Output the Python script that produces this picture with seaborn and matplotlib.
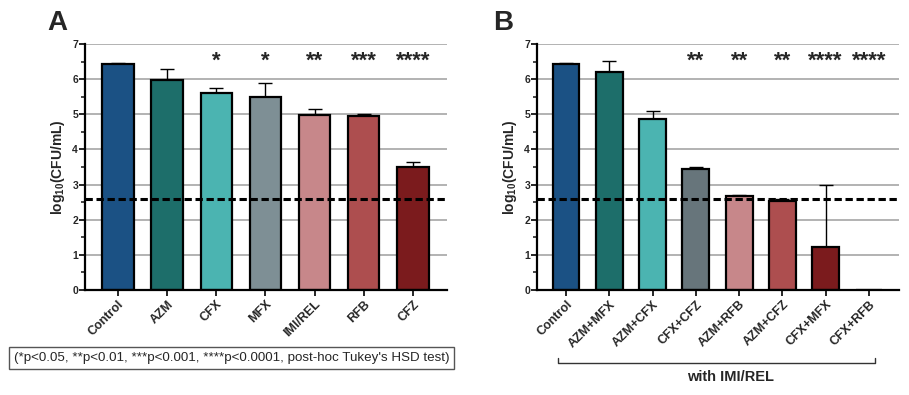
import matplotlib
matplotlib.use("Agg")
import matplotlib.pyplot as plt
import seaborn as sns
import numpy as np
import pandas as pd

# panel A: single drugs
a_labels = ["Control", "AZM", "CFX", "MFX", "IMI/REL", "RFB", "CFZ"]
a_means = [6.42, 5.97, 5.60, 5.50, 4.98, 4.96, 3.50]
a_err = [0.05, 0.31, 0.16, 0.40, 0.17, 0.04, 0.15]
a_stars = ["", "", "*", "*", "**", "***", "****"]
a_colors = ["#1b5184", "#1d6e6a", "#4bb4b1", "#7e8f95", "#c7878a", "#ad4e4f", "#7b1b1d"]

# panel B: combinations with IMI/REL
b_labels = ["Control", "AZM+MFX", "AZM+CFX", "CFX+CFZ", "AZM+RFB", "AZM+CFZ", "CFX+MFX", "CFX+RFB"]
b_means = [6.42, 6.20, 4.88, 3.45, 2.68, 2.52, 1.22, 0.0]
b_err = [0.05, 0.32, 0.22, 0.05, 0.02, 0.08, 1.78, 0.0]
b_stars = ["", "", "", "**", "**", "**", "****", "****"]
b_colors = ["#1b5184", "#1d6e6a", "#4bb4b1", "#67757b", "#c7878a", "#ad4e4f", "#7b1b1d", "#7b1b1d"]

detection_limit = 2.6

sns.set_style("white")
plt.rcParams["font.family"] = ["Liberation Sans", "DejaVu Sans"]
plt.rcParams["mathtext.default"] = "regular"

fig = plt.figure(figsize=(9.09, 3.95), dpi=100)
ax_a = fig.add_axes([0.0935, 0.2658, 0.398, 0.6228])
ax_b = fig.add_axes([0.5908, 0.2658, 0.398, 0.6228])


def draw_panel(ax, labels, means, err, stars, colors, width):
    df = pd.DataFrame({"group": labels, "value": means})
    sns.barplot(data=df, x="group", y="value", hue="group", palette=colors,
                order=labels, hue_order=labels, legend=False, width=width,
                saturation=1, edgecolor="black", linewidth=1.6, errorbar=None,
                ax=ax, zorder=2)
    x = np.arange(len(labels))
    ax.errorbar(x, means, yerr=[np.zeros(len(err)), err], fmt="none",
                ecolor="black", elinewidth=1.0, capsize=5, capthick=1.0, zorder=1.5)
    ax.axhline(detection_limit, color="black", lw=2.2, ls=(0, (2.4, 1.2)), zorder=4)
    for xi, s in zip(x, stars):
        if s:
            ax.text(xi, 6.52, s, ha="center", va="center", fontsize=16, fontweight="bold")
    ax.set_ylim(0, 7)
    ax.set_xlim(-0.67, len(labels) - 1 + 0.69)
    ax.set_yticks(range(8))
    ax.set_yticks(np.arange(0.5, 7, 1), minor=True)
    for yv in range(1, 8):
        ax.axhline(yv, color="#a6a6a6", lw=1.2, zorder=0)
    sns.despine(ax=ax)
    for side in ["left", "bottom"]:
        ax.spines[side].set_linewidth(1.6)
        ax.spines[side].set_color("black")
    ax.tick_params(axis="y", which="major", left=True, length=4, width=1.4, labelsize=7.5, pad=1)
    ax.tick_params(axis="y", which="minor", left=True, length=3, width=1.2)
    ax.tick_params(axis="x", bottom=True, length=4, width=1.4, labelsize=9, pad=2)
    for t in ax.get_yticklabels():
        t.set_fontweight("bold")
    ax.set_xticks(x)
    ax.set_xticklabels(labels, rotation=45, ha="right", rotation_mode="anchor",
                       fontweight="bold")
    ax.set_xlabel("")
    ax.set_ylabel("log$_{10}$(CFU/mL)", fontsize=10, fontweight="bold", labelpad=4)


draw_panel(ax_a, a_labels, a_means, a_err, a_stars, a_colors, 0.64)
draw_panel(ax_b, b_labels, b_means, b_err, b_stars, b_colors, 0.62)

fig.text(0.063, 0.924, "A", fontsize=20, fontweight="bold", ha="center", va="baseline")
fig.text(0.554, 0.924, "B", fontsize=20, fontweight="bold", ha="center", va="baseline")

# footnote box
fig.text(0.015, 0.094, "(*p<0.05, **p<0.01, ***p<0.001, ****p<0.0001, post-hoc Tukey's HSD test)",
         fontsize=9.6, ha="left", va="center",
         bbox=dict(boxstyle="square,pad=0.35", fc="white", ec="#555555", lw=1.0))

# bracket under panel B
trans = ax_b.get_xaxis_transform()
bx0, bx1, by, bt = -0.18, 7.15, -0.297, -0.277
ax_b.plot([bx0, bx0, bx1, bx1], [bt, by, by, bt], color="#333333", lw=1.0,
          transform=trans, clip_on=False)
ax_b.text(3.8, -0.355, "with IMI/REL", transform=trans, ha="center", va="center",
          fontsize=10.5, fontweight="bold")

fig.savefig("out.png", dpi=100)
